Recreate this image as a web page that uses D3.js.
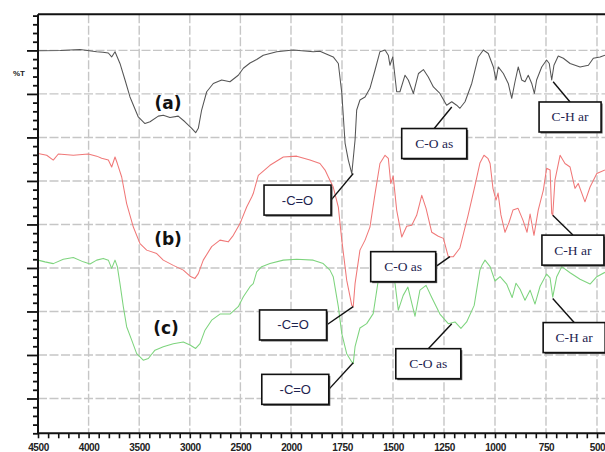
<!DOCTYPE html>
<html>
<head>
<meta charset="utf-8">
<script src="https://cdn.jsdelivr.net/npm/d3@7"></script>
<style>
  html, body { margin: 0; padding: 0; background: #fff; }
  svg { display: block; }
</style>
</head>
<body>
<svg id="chart" width="605" height="452"></svg>
<script>
// FTIR spectra, wavenumber (cm-1) vs. %T, three stacked samples
const waveTicks = [4500, 4000, 3500, 3000, 2500, 2000, 1750, 1500, 1250, 1000, 750, 500];
const seriesNames = ["(a)", "(b)", "(c)"];

const spectrumA = [
  [4500, 99.9], [4280, 100.0], [4085, 100.2], [3920, 99.7], [3858, 99.6], [3805, 99.4],
  [3772, 98.5], [3739, 99.7], [3690, 97.0], [3640, 93.2], [3591, 89.3], [3509, 84.7],
  [3443, 83.2], [3393, 83.6], [3311, 84.9], [3262, 85.1], [3196, 84.6], [3114, 84.9],
  [3048, 83.6], [2981, 82.1], [2942, 81.1], [2916, 82.1], [2883, 86.3], [2833, 90.5],
  [2768, 92.4], [2685, 93.2], [2603, 92.8], [2521, 94.3], [2471, 95.9], [2405, 97.1],
  [2339, 97.9], [2274, 98.9], [2141, 99.7], [1989, 100.1], [1891, 99.7], [1858, 99.8],
  [1833, 99.3], [1793, 98.5], [1768, 97.0], [1751, 90.2], [1735, 78.7], [1719, 74.8],
  [1702, 71.7], [1686, 79.4], [1678, 86.3], [1662, 88.6], [1637, 89.3], [1613, 91.3],
  [1588, 95.5], [1564, 99.7], [1539, 100.1], [1523, 98.9], [1515, 96.6], [1501, 98.5],
  [1482, 90.5], [1466, 90.5], [1441, 94.3], [1425, 93.2], [1400, 90.1], [1375, 94.7],
  [1351, 95.6], [1327, 93.9], [1302, 91.6], [1270, 90.1], [1237, 87.4], [1212, 88.2],
  [1188, 87.4], [1172, 86.7], [1147, 88.2], [1114, 92.4], [1082, 98.5], [1057, 100.1],
  [1033, 99.3], [1008, 96.2], [995, 93.2], [984, 96.2], [959, 94.7], [935, 92.4],
  [918, 89.0], [902, 92.8], [886, 96.2], [869, 93.2], [853, 92.8], [837, 94.3],
  [820, 92.4], [807, 90.1], [796, 93.2], [771, 96.2], [747, 97.8], [734, 97.0],
  [722, 93.2], [711, 96.6], [690, 98.7], [665, 98.2], [632, 97.0], [583, 96.2],
  [542, 96.6], [518, 98.2], [485, 98.5], [461, 98.9]
];

const spectrumB = [
  [4500, 76.3], [4414, 75.9], [4349, 74.8], [4299, 76.2], [4151, 75.9], [4003, 76.2],
  [3920, 75.7], [3871, 75.2], [3805, 74.8], [3772, 73.2], [3739, 75.5], [3716, 74.0],
  [3673, 70.9], [3624, 64.8], [3558, 59.4], [3492, 55.6], [3426, 54.1], [3327, 53.3],
  [3262, 51.8], [3163, 50.6], [3064, 49.5], [2998, 48.1], [2949, 47.6], [2916, 48.7],
  [2867, 51.8], [2784, 54.9], [2702, 56.4], [2620, 56.0], [2570, 57.5], [2504, 60.2],
  [2438, 64.0], [2388, 66.3], [2373, 67.1], [2346, 69.4], [2323, 71.3], [2208, 73.6],
  [2076, 75.5], [1972, 75.7], [1907, 74.8], [1858, 74.0], [1833, 72.5], [1817, 70.9],
  [1793, 68.6], [1768, 64.0], [1751, 56.4], [1727, 47.2], [1702, 41.4], [1695, 41.1],
  [1686, 46.4], [1662, 54.1], [1637, 56.4], [1613, 59.4], [1588, 67.1], [1564, 74.0],
  [1539, 75.9], [1523, 75.2], [1511, 69.4], [1499, 71.1], [1482, 63.3], [1457, 57.1],
  [1433, 59.6], [1408, 59.8], [1384, 62.1], [1359, 66.7], [1338, 63.7], [1310, 58.2],
  [1278, 57.3], [1253, 56.8], [1229, 52.6], [1204, 52.6], [1172, 54.6], [1132, 62.1],
  [1098, 69.0], [1074, 74.1], [1054, 75.9], [1035, 75.2], [1024, 74.0], [1010, 68.3],
  [995, 65.6], [985, 67.2], [971, 62.2], [951, 58.2], [931, 60.5], [912, 63.3],
  [887, 63.7], [863, 61.0], [843, 58.2], [828, 62.4], [809, 57.5], [788, 63.3],
  [763, 67.9], [747, 72.9], [730, 72.5], [722, 62.5], [717, 62.1], [706, 70.2],
  [681, 75.9], [657, 74.0], [632, 73.2], [608, 68.3], [592, 69.4], [559, 65.2],
  [534, 68.6], [501, 71.7], [461, 72.5]
];

const spectrumC = [
  [4500, 51.8], [4431, 51.4], [4349, 51.0], [4250, 52.0], [4151, 52.4], [4052, 51.4],
  [3986, 50.9], [3920, 51.8], [3855, 52.2], [3805, 51.8], [3772, 49.9], [3739, 51.8],
  [3716, 50.3], [3690, 46.4], [3657, 41.1], [3624, 36.5], [3574, 33.4], [3525, 30.3],
  [3460, 28.8], [3410, 29.2], [3344, 31.1], [3262, 31.9], [3163, 32.6], [3064, 33.0],
  [2998, 32.3], [2942, 31.5], [2899, 32.6], [2850, 35.7], [2784, 38.0], [2702, 39.4],
  [2603, 39.4], [2521, 41.1], [2471, 43.4], [2405, 45.7], [2373, 46.4], [2339, 49.1],
  [2290, 50.3], [2208, 51.0], [2076, 51.8], [1972, 52.0], [1891, 51.8], [1842, 51.0],
  [1809, 49.5], [1793, 48.0], [1768, 41.1], [1751, 34.9], [1727, 30.3], [1702, 28.4],
  [1695, 28.0], [1686, 31.9], [1662, 36.2], [1629, 37.2], [1597, 39.5], [1572, 47.2],
  [1548, 50.6], [1531, 51.3], [1515, 49.5], [1490, 46.4], [1474, 40.3], [1450, 43.7],
  [1427, 45.6], [1408, 41.9], [1392, 38.9], [1368, 44.9], [1338, 46.0], [1310, 43.2],
  [1270, 39.4], [1229, 37.2], [1196, 37.6], [1167, 36.1], [1139, 37.6], [1102, 41.4],
  [1074, 49.5], [1064, 50.6], [1049, 51.8], [1024, 50.3], [1000, 47.0], [975, 48.0],
  [943, 46.3], [916, 43.2], [897, 46.5], [877, 45.1], [853, 42.6], [828, 44.9],
  [804, 41.7], [779, 45.8], [747, 48.6], [730, 47.7], [717, 43.3], [698, 47.9],
  [673, 50.3], [632, 48.9], [583, 47.4], [534, 46.3], [501, 48.0], [461, 49.0]
];

// position of each sample name, [wavenumber, %T]
const seriesLabelAt = [[3215, 88.0], [3215, 56.6], [3235, 36.3]];

// band assignments: text, marked point on the spectrum, box centre
const bandText = ["C-O as", "C-H ar", "-C=O", "C-O as", "C-H ar", "-C=O", "-C=O", "C-O as", "C-H ar"];
const bandPeak = [[1212, 87.0], [715, 92.8], [1695, 71.7], [1221, 52.6], [717, 62.1],
                  [1695, 41.1], [1695, 28.2], [1212, 37.2], [717, 43.0]];
const bandBox  = [[1298, 78.6], [632, 84.7], [1968, 65.6], [1450, 50.3], [618, 54.1],
                  [1990, 36.9], [1979, 22.1], [1327, 28.0], [612, 34.0]];

const svg = d3.select("#chart");
const W = 605, H = 452;
const plotLeft = 38, plotTop = 14.3, plotBottom = 433.3;

// wavenumber axis changes scale at 2000 cm-1
const x = d3.scaleLinear().domain([4500, 2000, 500]).range([plotLeft, 291, 597]);
const y = d3.scaleLinear().domain([12, 108.3]).range([plotBottom, plotTop]);

svg.append("defs").append("clipPath").attr("id", "plot")
  .append("rect").attr("x", plotLeft).attr("y", plotTop)
  .attr("width", W - plotLeft).attr("height", plotBottom - plotTop);

// dashed grid
const grid = svg.append("g").attr("stroke", "#c6c6c6").attr("stroke-width", 1.4)
  .attr("stroke-dasharray", "9,2.5");
grid.selectAll("line.v").data(waveTicks.filter(d => d !== 4500)).join("line")
  .attr("class", "v")
  .attr("x1", d => x(d)).attr("x2", d => x(d)).attr("y1", plotTop).attr("y2", plotBottom);
const yMajor = d3.range(20, 101, 10);
grid.selectAll("line.h").data(yMajor).join("line")
  .attr("class", "h")
  .attr("x1", plotLeft).attr("x2", W).attr("y1", d => y(d)).attr("y2", d => y(d));

// spectra
const line = d3.line().x(d => x(d[0])).y(d => y(d[1])).curve(d3.curveLinear);
const spectra = [spectrumA, spectrumB, spectrumC];
const colors = ["#555555", "#f07878", "#7ed47e"];
svg.append("g").attr("clip-path", "url(#plot)")
  .selectAll("path").data(spectra).join("path")
  .attr("d", line).attr("fill", "none")
  .attr("stroke", (d, i) => colors[i]).attr("stroke-width", 1.05)
  .attr("stroke-linejoin", "round");

// y axis (no labels, major and minor ticks)
const yMinor = d3.range(12, 108.1, 2).filter(v => v % 10 !== 0);
const yAxisMajor = d3.axisLeft(y).tickValues(yMajor).tickSize(11).tickFormat("");
const yAxisMinor = d3.axisLeft(y).tickValues(yMinor).tickSize(5).tickFormat("");
const gy = svg.append("g").attr("transform", `translate(${plotLeft},0)`);
gy.append("g").call(yAxisMajor);
gy.append("g").call(yAxisMinor);
gy.selectAll("path.domain").remove();
gy.selectAll("line").attr("stroke", "#111").attr("stroke-width", 1.8);

// x axis
const xMinor = d3.range(4400, 2000, -100).concat(d3.range(1950, 500, -50))
  .filter(v => !waveTicks.includes(v));
const gx = svg.append("g").attr("transform", `translate(0,${plotBottom})`);
gx.append("g").call(d3.axisBottom(x).tickValues(waveTicks).tickSize(5).tickFormat(d3.format("d")));
gx.append("g").call(d3.axisBottom(x).tickValues(xMinor).tickSize(5).tickFormat(""));
gx.selectAll("path.domain").remove();
gx.selectAll("line").attr("stroke", "#111").attr("stroke-width", 1.6);
gx.selectAll("text")
  .attr("font-family", "'Liberation Sans', Arial, sans-serif")
  .attr("font-size", 10).attr("font-weight", "bold").attr("letter-spacing", "-0.4")
  .attr("fill", "#222").attr("dy", null).attr("y", 18);

// frame: left, top and bottom rules
const frame = svg.append("g").attr("stroke", "#111").attr("stroke-width", 2);
frame.append("line").attr("x1", plotLeft).attr("x2", plotLeft).attr("y1", plotTop).attr("y2", plotBottom);
frame.append("line").attr("x1", plotLeft).attr("x2", W).attr("y1", plotTop).attr("y2", plotTop);
frame.append("line").attr("x1", plotLeft).attr("x2", W).attr("y1", plotBottom).attr("y2", plotBottom);

svg.append("text").attr("x", 13).attr("y", 75.5).text("%T")
  .attr("font-family", "'Liberation Sans', Arial, sans-serif")
  .attr("font-size", 8).attr("font-weight", "bold").attr("fill", "#222");

// sample names
svg.append("g").selectAll("text").data(seriesNames).join("text")
  .attr("x", (d, i) => x(seriesLabelAt[i][0]))
  .attr("y", (d, i) => y(seriesLabelAt[i][1]))
  .attr("text-anchor", "middle").attr("dominant-baseline", "central")
  .attr("font-family", "'DejaVu Sans', Verdana, sans-serif")
  .attr("font-weight", "bold").attr("font-size", 17).attr("fill", "#111")
  .text(d => d);

// band annotations: leader line + boxed label
const bands = bandText.map((t, i) => ({ text: t, peak: bandPeak[i], box: bandBox[i] }));
const boxW = t => t.startsWith("-") ? 67 : (t.startsWith("C-H") ? 62 : 65);
const boxH = 30;
const ann = svg.append("g");
bands.forEach(b => {
  const cx = x(b.box[0]), cy = y(b.box[1]);
  const w = boxW(b.text);
  const px = x(b.peak[0]), py = y(b.peak[1]);
  const fromTop = px >= cx - w / 2 && px <= cx + w / 2;
  const sx = fromTop ? cx : cx + w / 2;
  const sy = fromTop ? cy - boxH / 2 : cy;
  ann.append("line").attr("x1", sx).attr("y1", sy).attr("x2", px).attr("y2", py)
    .attr("stroke", "#111").attr("stroke-width", 1.4);
  ann.append("rect").attr("x", cx - w / 2 + 1.5).attr("y", cy - boxH / 2 + 1.5)
    .attr("width", w).attr("height", boxH).attr("fill", "#555");
  ann.append("rect").attr("x", cx - w / 2).attr("y", cy - boxH / 2)
    .attr("width", w).attr("height", boxH)
    .attr("fill", "#fff").attr("stroke", "#111").attr("stroke-width", 1.6);
  const serif = !b.text.startsWith("-");
  ann.append("text").attr("x", cx).attr("y", cy)
    .attr("text-anchor", "middle").attr("dominant-baseline", "central")
    .attr("font-family", serif ? "'Liberation Serif', 'Times New Roman', serif"
                               : "'Liberation Sans', Arial, sans-serif")
    .attr("font-size", serif ? 13.5 : 13)
    .attr("fill", "#1e2450")
    .text(b.text);
});
</script>
</body>
</html>
